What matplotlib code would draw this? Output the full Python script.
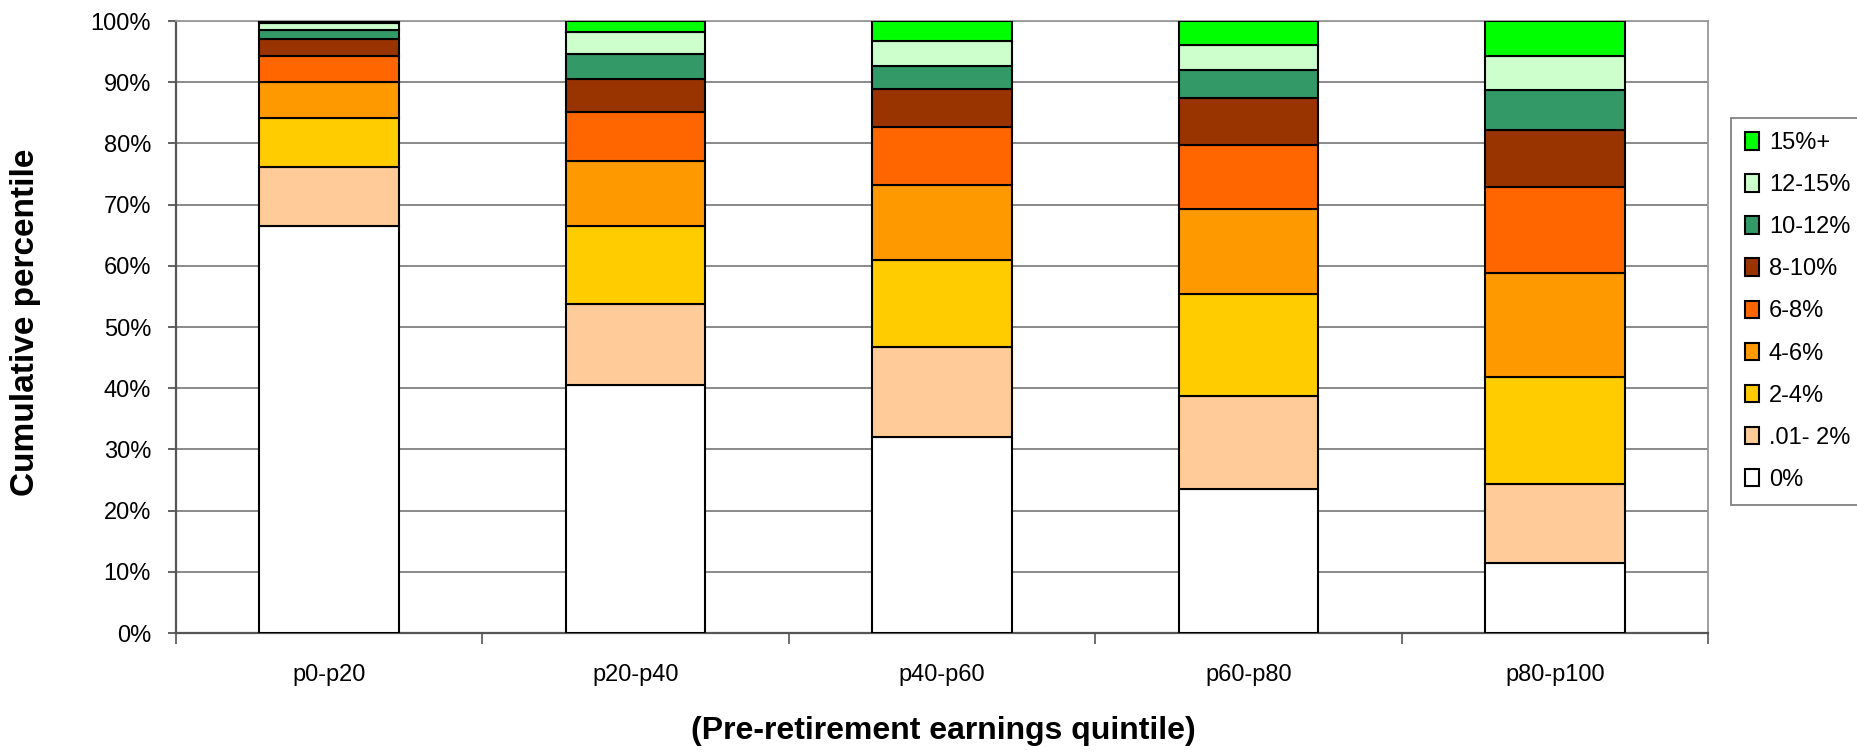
import numpy as np
import matplotlib.pyplot as plt

plt.rcParams['font.family'] = ['Liberation Sans', 'DejaVu Sans']

quintiles = ['p0-p20', 'p20-p40', 'p40-p60', 'p60-p80', 'p80-p100']
bands = ['0%', '.01- 2%', '2-4%', '4-6%', '6-8%', '8-10%', '10-12%', '12-15%', '15%+']
colors = ['#FFFFFF', '#FFCC99', '#FFCC00', '#FF9900', '#FF6600',
          '#993300', '#339966', '#CCFFCC', '#00FF00']

# share of each quintile (percent) falling in each band
share_0 = [66.5, 40.5, 32.0, 23.5, 11.4]
share_0_2 = [9.7, 13.2, 14.8, 15.3, 13.0]
share_2_4 = [7.9, 12.8, 14.2, 16.6, 17.4]
share_4_6 = [6.0, 10.7, 12.2, 13.8, 17.1]
share_6_8 = [4.1, 7.9, 9.5, 10.5, 14.0]
share_8_10 = [2.9, 5.5, 6.2, 7.8, 9.3]
share_10_12 = [1.5, 4.0, 3.8, 4.5, 6.6]
share_12_15 = [1.0, 3.6, 4.0, 4.0, 5.4]
share_15 = [0.4, 1.8, 3.3, 4.0, 5.8]

shares = [share_0, share_0_2, share_2_4, share_4_6, share_6_8,
          share_8_10, share_10_12, share_12_15, share_15]

W, H = 1858, 753
fig = plt.figure(figsize=(W / 100, H / 100), dpi=100)
ax = fig.add_axes([176 / W, 1 - 633 / H, (1708 - 176) / W, (633 - 21) / H])

x = np.arange(len(quintiles))
bottom = np.zeros(len(quintiles))
handles = []
for name, vals, c in zip(bands, shares, colors):
    vals = np.array(vals) / 100
    h = ax.bar(x, vals, 0.455, bottom=bottom, color=c, edgecolor='black',
               linewidth=1.5, label=name, zorder=3)
    handles.append(h)
    bottom += vals

ax.set_xlim(-0.5, len(quintiles) - 0.5)
ax.set_ylim(0, 1)
ax.set_yticks(np.arange(0, 1.01, 0.1))
ax.set_yticklabels([f'{int(round(v * 100))}%' for v in np.arange(0, 1.01, 0.1)])
ax.yaxis.grid(True, color='#808080', linewidth=1.3, zorder=0)
ax.set_axisbelow(True)

ax.set_xticks(x)
ax.set_xticklabels(quintiles)
ax.set_xticks(np.arange(-0.5, len(quintiles)), minor=True)
ax.tick_params(axis='x', which='major', length=0, pad=22, labelsize=17)
ax.tick_params(axis='x', which='minor', length=8, width=1.2, color='#555555')
ax.tick_params(axis='y', length=6, width=1.3, color='#555555', pad=12, labelsize=17)

for s in ['left', 'bottom']:
    ax.spines[s].set_color('#555555')
    ax.spines[s].set_linewidth(1.6)
for s in ['right', 'top']:
    ax.spines[s].set_color('#999999')
    ax.spines[s].set_linewidth(1.3)

fig.text(26 / W, 1 - 322 / H, 'Cumulative percentile', rotation=90,
         ha='center', va='center', fontsize=24, fontweight='bold')
fig.text(943 / W, 1 - 731 / H, '(Pre-retirement earnings quintile)',
         ha='center', va='center', fontsize=23, fontweight='bold')

leg = fig.legend(handles[::-1], bands[::-1], loc='upper left',
                 bbox_to_anchor=(1731 / W, 1 - 118 / H),
                 bbox_transform=fig.transFigure, fontsize=17,
                 handlelength=0.6, handleheight=0.75, handletextpad=0.4,
                 labelspacing=0.85, borderpad=0.6, borderaxespad=0,
                 fancybox=False, framealpha=1)
leg.get_frame().set_edgecolor('#808080')
leg.get_frame().set_linewidth(1.3)

fig.savefig('out.png', dpi=100)
